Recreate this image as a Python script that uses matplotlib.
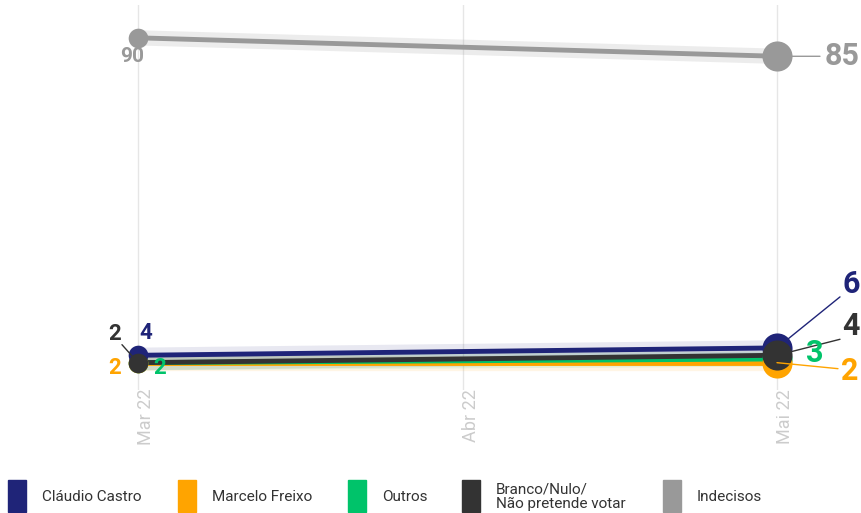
import matplotlib.pyplot as plt
from matplotlib.patches import Rectangle

plt.rcParams['font.family'] = ['Roboto', 'DejaVu Sans']

# days since 1 Mar 2022
dates = [0, 61]
tick_pos = [0, 31, 61]
tick_labels = ['Mar 22', 'Abr 22', 'Mai 22']

names = ['Cláudio Castro', 'Marcelo Freixo', 'Outros', 'Branco/Nulo/\nNão pretende votar', 'Indecisos']
colors = ['#1f2478', '#ffa400', '#00c36a', '#333333', '#999999']
castro = [4, 6]
freixo = [2, 2]
outros = [2, 3]
branco = [2, 4]
indecisos = [90, 85]
series = [castro, freixo, outros, branco, indecisos]

fig = plt.figure(figsize=(8.61, 5.13), dpi=100)
ax = fig.add_axes([0, 0.2398, 1, 0.7505])
ax.set_xlim(-13.17, 69.02)
ax.set_ylim(-5.4, 98.9)
for s in ax.spines.values():
    s.set_visible(False)
ax.set_yticks([])
ax.set_xticks(tick_pos)
ax.set_xticklabels([])
ax.tick_params(axis='x', length=0)
for t in tick_pos:
    ax.axvline(t, color='#e6e6e6', lw=1, zorder=0)
for t, lab in zip(tick_pos, tick_labels):
    ax.annotate(lab, (t, 0), xycoords=('data', 'axes fraction'), xytext=(8, 1),
                textcoords='offset pixels', rotation=90, ha='center', va='top',
                color='#cccccc', fontsize=13)

# line order (bottom to top) and dot order
line_order = [4, 1, 2, 3, 0]
dot_order = [4, 2, 1, 0, 3]
for i in line_order:
    vals = series[i]
    z = 2 + line_order.index(i)
    ax.plot(dates, vals, color=colors[i], lw=11, alpha=0.18 if i == 4 else 0.1,
            solid_capstyle='butt', zorder=1)
    ax.plot(dates, vals, color=colors[i], lw=3.5, zorder=z)
for i in dot_order:
    vals = series[i]
    z = 10 + dot_order.index(i)
    ax.scatter(dates[:1], vals[:1], s=200, color=colors[i], zorder=z, lw=0)
    ax.scatter(dates[1:], vals[1:], s=470, color=colors[i], zorder=z, lw=0)


def label(val, x, y, dx, dy, c, size, lead=None):
    # lead: (start offset from point, end offset) in pixels for a leader line
    if lead is not None:
        ax.annotate('', (x, y), xytext=lead[1], textcoords='offset pixels',
                    arrowprops=dict(arrowstyle='-', color=c, lw=1, shrinkA=0, shrinkB=lead[0]),
                    zorder=20)
    ax.annotate(str(val), (x, y), xytext=(dx, dy), textcoords='offset pixels',
                ha='center', va='center', color=c, fontsize=size, fontweight='bold', zorder=21)


# start labels
label(indecisos[0], dates[0], indecisos[0], -6, -19, colors[4], 15)
label(branco[0], dates[0], branco[0], -23, 29, colors[3], 16, lead=(3, (-16, 18)))
label(castro[0], dates[0], castro[0], 8, 22, colors[0], 16)
label(freixo[0], dates[0], freixo[0], -23, -5, colors[1], 16)
label(outros[0], dates[0], outros[0], 22, -5, colors[2], 16)

# end labels
label(indecisos[1], dates[1], indecisos[1], 65, 0, colors[4], 22, lead=(0, (43, 0)))
label(castro[1], dates[1], castro[1], 74, 64, colors[0], 22, lead=(8, (63, 51)))
label(branco[1], dates[1], branco[1], 74, 29, colors[3], 22, lead=(0, (63, 16)))
label(outros[1], dates[1], outros[1], 38, 6, colors[2], 22)
label(freixo[1], dates[1], freixo[1], 73, -8, colors[1], 22, lead=(0, (61, -6)))

# legend
leg_x = [8, 178, 348, 462, 663]
W, H = 861, 513
for x, name, c in zip(leg_x, names, colors):
    fig.add_artist(Rectangle((x / W, 1 - 512 / H), 18 / W, 32 / H, color=c, transform=fig.transFigure))
    fig.text((x + 34) / W, 1 - 497 / H, name, ha='left', va='center', fontsize=11,
             color='#333333', linespacing=1.0)

fig.savefig('out.png', dpi=100)
